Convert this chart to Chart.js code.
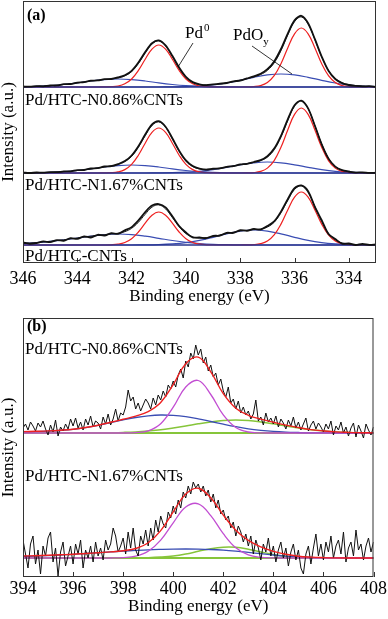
<!DOCTYPE html>
<html>
<head>
<meta charset="utf-8">
<script src="https://cdn.jsdelivr.net/npm/chart.js@4/dist/chart.umd.min.js"></script>
<style>
  html, body { margin: 0; padding: 0; background: #fff; }
  #wrap { position: relative; width: 388px; height: 619px; }
  canvas { position: absolute; left: 0; }
  #chartA { top: 0; }
  #chartB { top: 310px; }
</style>
</head>
<body>
<div id="wrap">
  <canvas id="chartA" width="388" height="310"></canvas>
  <canvas id="chartB" width="388" height="309"></canvas>
</div>
<script>
// ---- tick labels and sample names ----
const pdTicks = [346, 344, 342, 340, 338, 336, 334];
const nTicks = [394, 396, 398, 400, 402, 404, 406, 408];
const sampleNames = ['Pd/HTC-N0.86%CNTs', 'Pd/HTC-N1.67%CNTs', 'Pd/HTC-CNTs'];

// vertical offsets of the stacked spectra (a.u.)
const pdOffsets = [176, 90, 18];
const nOffsets = [144, 19];

// ---- (a) Pd 3d, fine grid 346 -> 333 every 0.25 eV ----
const pd086Raw = [0.5,0.3,0.9,0.7,1.5,1.6,2.8,3.0,4.4,4.8,6.3,6.6,7.9,8.0,9.6,11.8,16.2,24.5,35.0,43.8,46.6,41.6,31.2,19.5,10.2,4.9,2.7,1.8,2.6,3.3,4.0,5.6,6.5,8.6,10.7,13.2,17.8,25.6,38.0,53.4,66.6,71.2,63.8,47.8,30.4,16.2,8.0,3.9,2.0,1.1,0.6,0.8,0.2];
const pd086Fit = [0.2,0.4,0.6,0.9,1.3,1.8,2.5,3.2,4.1,5.0,6.0,6.8,7.5,8.2,9.0,11.1,15.4,23.4,33.8,42.9,46.1,41.1,30.4,18.6,9.6,4.6,2.5,2.0,2.4,3.0,4.1,5.3,6.7,8.3,10.1,12.4,16.6,24.1,36.3,51.9,65.3,70.0,62.9,47.3,30.0,16.6,8.5,4.3,2.4,1.5,0.9,0.6,0.4];
const pd086Metal = [0,0,0,0,0,0,0,0,0,0,0,0,0.1,0.3,1.0,3.2,8.0,16.6,27.8,37.9,42,37.9,27.8,16.6,8.0,3.2,1.0,0.3,0.1,0,0,0,0,0.1,0.4,1.4,4.5,11.3,23.3,39.1,53.2,59,53.2,39.1,23.3,11.3,4.5,1.4,0.4,0.1,0,0,0];
const pd167Raw = [0.4,0.0,0.5,0.3,0.9,0.8,1.6,1.7,2.9,3.0,4.5,4.8,6.5,6.8,8.9,11.9,17.5,26.8,38.4,48.6,51.8,46.2,34.8,22.4,12.6,6.9,4.3,3.4,4.3,4.6,6.2,6.9,8.6,9.2,11.0,12.8,16.8,24.4,37.2,53.6,67.8,72.4,64.6,47.2,28.6,14.4,6.4,2.9,1.5,0.4,0.7,0.1,0.3];
const pd167Fit = [0.1,0.1,0.2,0.4,0.6,0.9,1.3,1.8,2.5,3.2,4.1,5.0,6.1,7.1,8.5,11.3,16.6,25.7,37.2,47.4,51.1,45.8,34.2,21.5,11.8,6.4,4.1,3.6,4.0,4.8,5.9,7.1,8.3,9.4,10.6,12.4,15.9,23.2,35.9,52.3,66.8,71.9,64.3,47.4,29.1,14.9,6.6,2.8,1.2,0.6,0.3,0.2,0.1];
const pd167Metal = [0,0,0,0,0,0,0,0,0,0,0,0,0.1,0.3,1.1,3.4,8.6,17.8,29.8,40.6,45,40.6,29.8,17.8,8.6,3.4,1.1,0.3,0.1,0,0,0,0,0.1,0.4,1.6,4.9,12.4,25.7,43.0,58.6,65,58.6,43.0,25.7,12.4,4.9,1.6,0.4,0.1,0,0,0];
const pdCntRaw = [2.5,1.2,2.0,3.6,2.8,4.9,4.2,6.8,6.1,8.6,7.5,10.2,9.4,11.8,11.2,14.6,17.9,24.6,32.8,39.4,40.9,37.6,28.8,19.0,12.5,7.6,7.5,6.8,9.1,9.4,12.2,12.1,14.9,14.1,16.1,15.4,19.0,23.6,33.4,45.8,56.8,59.6,53.8,38.0,24.8,11.0,5.9,1.4,1.6,0.0,1.2,0.2,0.6];
const pdCntFit = [1.6,2.0,2.5,3.1,3.7,4.4,5.2,6.1,7.0,7.9,8.8,9.6,10.3,11.0,11.8,13.3,16.7,22.7,30.7,37.8,40.1,36.1,27.4,18.2,11.4,8.0,6.9,7.4,8.4,10.0,11.5,12.9,14.0,14.8,15.3,16.0,17.9,22.8,32.1,44.6,55.5,59.1,52.4,38.5,23.3,11.7,5.1,2.0,0.7,0.3,0.1,0.1,0.0];
const pdCntMetal = [0,0,0,0,0,0,0,0,0,0,0,0,0,0.2,0.8,2.5,6.3,13.0,21.8,29.8,33,29.8,21.8,13.0,6.3,2.5,0.8,0.2,0,0,0,0,0,0.1,0.3,1.3,4.0,10.1,20.9,35.1,47.8,53,47.8,35.1,20.9,10.1,4.0,1.3,0.3,0.1,0,0,0];

// ---- (a) PdOy components, coarse grid 346 -> 333 every 0.5 eV ----
const pd086OxA = [0.2,0.6,1.3,2.5,4.1,6.0,7.4,8,7.4,6.0,4.1,2.5,1.3,0.6,0.2,0.1,0,0,0,0,0,0,0,0,0,0,0];
const pd086OxB = [0,0,0,0,0,0,0,0,0,0,0,0.1,0.4,0.9,2.0,4.0,6.7,9.7,12.1,13,12.1,9.7,6.7,4.0,2.0,0.9,0.4];
const pd167OxA = [0.1,0.2,0.6,1.3,2.5,4.1,6.0,7.4,8,7.4,6.0,4.1,2.5,1.3,0.6,0.2,0.1,0,0,0,0,0,0,0,0,0,0];
const pd167OxB = [0,0,0,0,0,0,0,0,0,0,0.1,0.3,0.8,1.7,3.4,5.7,8.2,10.2,11,10.2,8.2,5.7,3.4,1.7,0.8,0.3,0.1];
const pdCntOxA = [1.6,2.5,3.7,5.2,7.0,8.8,10.3,11,10.4,8.8,6.7,4.5,2.7,1.5,0.7,0.3,0.1,0,0,0,0,0,0,0,0,0,0];
const pdCntOxB = [0,0,0,0,0,0,0,0,0,0.1,0.4,1.1,2.4,4.6,7.7,11.2,13.9,15,13.9,11.2,7.7,4.6,2.4,1.1,0.4,0.1,0];

// ---- (b) N 1s fit components, 394 -> 408 every 0.5 eV ----
const n086Fit = [1.4,1.7,2.1,2.8,3.8,5.5,7.8,10.7,13.7,16.9,21.4,30.5,48.4,69.3,75.8,61.1,39.4,24.8,17.7,13.9,10.8,7.9,5.5,3.4,2.1,1.1,0.6,0.3,0.1];
const n086Pink = [0,0,0,0,0,0,0,0,0,0.3,2.2,9.3,25.8,46.0,52.5,38.5,18.1,5.5,1.0,0.1,0,0,0,0,0,0,0,0,0];
const n086Blue = [1.2,1.4,1.8,2.5,3.6,5.4,7.7,10.4,13.1,15.5,17.2,18.0,17.6,16.3,14.1,11.5,8.8,6.3,4.2,2.7,1.6,0.9,0.5,0.2,0.1,0,0,0,0];
const n086Green = [0,0,0,0,0,0.05,0.1,0.3,0.6,1.1,2.0,3.2,5.0,7.0,9.2,11.1,12.5,13,12.5,11.1,9.2,7.0,5.0,3.2,2.0,1.1,0.6,0.3,0.1];
const n167Fit = [2.0,2.3,2.7,3.2,3.7,4.5,5.3,6.1,7.3,9.5,15.2,27.4,46.1,64.0,69.8,60.2,42.9,27.7,17.6,11.1,6.7,3.7,1.8,0.9,0.4,0.1,0,0,0];
const n167Pink = [0,0,0,0,0,0,0,0,0.4,1.8,6.7,17.9,35.2,51.0,54.2,42.4,24.3,10.2,3.2,0.7,0.1,0,0,0,0,0,0,0,0];
const n167Blue = [1.5,1.9,2.4,3.0,3.7,4.5,5.3,6.1,6.9,7.6,8.2,8.6,8.9,9.0,8.9,8.5,7.8,6.8,5.6,4.3,3.0,1.9,1.1,0.6,0.3,0.1,0,0,0];
const n167Green = [0,0,0,0,0,0,0,0,0,0.1,0.3,0.9,2.0,4.0,6.7,9.3,10.8,10.7,8.8,6.1,3.6,1.8,0.7,0.3,0.1,0,0,0,0];

// ---- (b) N 1s raw counts, 394 -> 408 every 0.1 eV ----
const n086Raw = [5,9,3,11,7,2,10,6,12,4,
  -2,8,1,13,-3,6,2,9,4,14,
  7,15,5,11,3,14,8,17,6,12,
  10,4,16,9,19,8,14,24,12,20,
  18,26,43,32,36,24,30,22,28,34,
  30,24,35,28,38,33,42,36,48,44,
  52,46,58,64,55,72,66,80,74,88,
  78,84,70,76,62,68,56,60,48,54,
  42,36,46,30,34,24,32,20,26,18,
  22,14,19,33,12,16,8,20,11,15,
  9,17,6,14,10,4,13,7,16,5,
  11,3,9,15,2,8,12,4,10,6,
  1,9,4,12,-2,7,3,11,0,6,
  -3,5,10,-4,8,2,-5,9,3,-2,6];
const n167Raw = [18,4,-10,14,22,-6,8,-16,12,2,
  20,26,-4,10,-18,6,16,-8,2,12,
  -6,14,4,18,-10,8,0,12,-4,16,
  2,10,-2,18,8,14,30,22,6,12,
  20,4,26,10,30,8,2,22,14,28,
  12,30,18,38,26,42,34,30,46,40,
  52,44,58,50,66,60,72,64,76,70,
  74,66,72,62,68,56,64,50,58,44,
  48,38,42,30,36,22,32,26,16,24,
  12,22,4,18,10,-2,14,6,20,2,
  12,-4,8,16,0,10,-8,6,14,-2,
  8,-10,-16,4,12,-6,10,24,2,14,
  -2,16,6,22,0,12,18,4,26,-4,
  10,16,2,28,8,14,-2,12,20,6,16];

// energy grids
function range(from, to, step) {
  const n = Math.round(Math.abs(to - from) / step);
  const dir = to < from ? -1 : 1;
  return Array.from({ length: n + 1 }, (_, i) => +(from + dir * i * step).toFixed(2));
}
const pdFineBE = range(346, 333, 0.25);
const pdCoarseBE = range(346, 333, 0.5);
const nFitBE = range(394, 408, 0.5);
const nRawBE = range(394, 408, 0.1);

const SERIF = '"Liberation Serif", "Times New Roman", serif';
const font = (size, weight) => `${weight || ''} ${size}px ${SERIF}`.trim();

const BLACK = '#111111';
const RED = '#ee2020';
const BLUE = '#3a4db3';
const NAVY = '#29358f';
const PINK = '#c24ed2';
const GREEN = '#86c53a';

function line(xs, ys, offset, color, width, tension) {
    return {
        data: ys.map((y, i) => ({ x: xs[i], y: y + offset })),
        borderColor: color,
        borderWidth: width,
        pointRadius: 0,
        fill: false,
        tension: tension
    };
}

function flat(x0, x1, offset, color, width) {
    return line([x0, x1], [0, 0], offset, color, width, 0);
}

// frame round the plot area with short inward ticks on the energy axis
const framePlugin = {
    id: 'frame',
    afterDraw(chart) {
        const { ctx, chartArea: a } = chart;
        const x = chart.scales.x;
        ctx.save();
        ctx.strokeStyle = '#333';
        ctx.lineWidth = 1;
        ctx.strokeRect(a.left + 0.5, a.top + 0.5, a.right - a.left - 1, a.bottom - a.top - 1);
        ctx.beginPath();
        for (const t of x.ticks) {
            const px = Math.round(x.getPixelForValue(t.value)) + 0.5;
            ctx.moveTo(px, a.bottom);
            ctx.lineTo(px, a.bottom - 5);
        }
        ctx.stroke();
        ctx.restore();
    }
};

function axes(min, max, reverse, ticks, axisHeight, tickPad, titlePad, yMax) {
    return {
        x: {
            type: 'linear',
            min: min,
            max: max,
            reverse: reverse,
            afterBuildTicks: s => { s.ticks = ticks.map(v => ({ value: v })); },
            afterFit: s => { s.height = axisHeight; },
            ticks: { font: { family: SERIF, size: 18 }, color: '#000', padding: tickPad, maxRotation: 0, autoSkip: false },
            grid: { display: false, drawTicks: false },
            border: { display: false },
            title: { display: true, text: 'Binding energy (eV)', color: '#000',
                     font: { family: SERIF, size: 17 }, padding: { top: 0, bottom: titlePad } }
        },
        y: {
            min: 0,
            max: yMax,
            afterFit: s => { s.width = 23; },
            ticks: { display: false },
            grid: { display: false, drawTicks: false },
            border: { display: false },
            title: { display: true, text: 'Intensity (a.u.)', color: '#000',
                     font: { family: SERIF, size: 17, lineHeight: 1 }, padding: { top: 0, bottom: 0 } }
        }
    };
}

// ---------- panel (a) ----------
const pdSets = [
    [pd086Raw, pd086Fit, pd086Metal, pd086OxA, pd086OxB],
    [pd167Raw, pd167Fit, pd167Metal, pd167OxA, pd167OxB],
    [pdCntRaw, pdCntFit, pdCntMetal, pdCntOxA, pdCntOxB]
];
const datasetsA = [];
pdSets.forEach(([raw, fit, metal, oxA, oxB], i) => {
    const off = pdOffsets[i];
    datasetsA.push(
        line(pdFineBE, raw, off, BLACK, 1.8, 0.3),
        line(pdFineBE, fit, off, '#222', 1, 0.4),
        flat(346, 333, off, NAVY, 1.3),
        line(pdFineBE, metal, off, RED, 1.2, 0.4),
        line(pdCoarseBE, oxA, off, BLUE, 1.2, 0.4),
        line(pdCoarseBE, oxB, off, BLUE, 1.2, 0.4)
    );
});

const labelsA = {
    id: 'labelsA',
    afterDraw(chart) {
        const ctx = chart.ctx;
        ctx.save();
        ctx.fillStyle = '#000';
        ctx.textBaseline = 'alphabetic';
        ctx.font = font(16, 'bold');
        ctx.fillText('(a)', 27, 20);
        ctx.font = font(17);
        ctx.fillText(sampleNames[0], 25, 105);
        ctx.fillText(sampleNames[1], 25, 190);
        ctx.fillText(sampleNames[2], 25, 261);
        // Pd0 and PdOy with leader lines
        ctx.fillText('Pd', 185, 38);
        const w1 = ctx.measureText('Pd').width;
        ctx.fillText('PdO', 233, 40);
        const w2 = ctx.measureText('PdO').width;
        ctx.font = font(11);
        ctx.fillText('0', 185 + w1 + 1, 31);
        ctx.fillText('y', 233 + w2, 45);
        ctx.strokeStyle = '#000';
        ctx.lineWidth = 0.8;
        ctx.beginPath();
        ctx.moveTo(193, 43);
        ctx.lineTo(178, 67);
        ctx.moveTo(252, 46);
        ctx.lineTo(292, 74);
        ctx.stroke();
        ctx.restore();
    }
};

new Chart(document.getElementById('chartA'), {
    type: 'line',
    data: { datasets: datasetsA },
    options: {
        responsive: false,
        animation: false,
        devicePixelRatio: 1,
        layout: { padding: { left: 0, right: 12, top: 1, bottom: 0 } },
        plugins: { legend: { display: false }, tooltip: { enabled: false } },
        scales: axes(333, 346, true, pdTicks, 47, 5, 3, 262)
    },
    plugins: [framePlugin, labelsA]
});

// ---------- panel (b) ----------
const nSets = [
    [n086Raw, n086Fit, n086Pink, n086Blue, n086Green],
    [n167Raw, n167Fit, n167Pink, n167Blue, n167Green]
];
const datasetsB = [];
nSets.forEach(([raw, fit, pink, blue, green], i) => {
    const off = nOffsets[i];
    datasetsB.push(
        line(nFitBE, fit, off, RED, 1.4, 0.4),
        line(nRawBE, raw, off, BLACK, 1, 0),
        line(nFitBE, pink, off, PINK, 1.3, 0.4),
        line(nFitBE, blue, off, BLUE, 1.3, 0.4),
        line(nFitBE, green, off, GREEN, 1.5, 0.4),
        flat(394, 408, off, GREEN, 2)
    );
});

const labelsB = {
    id: 'labelsB',
    afterDraw(chart) {
        const ctx = chart.ctx;
        ctx.save();
        ctx.fillStyle = '#000';
        ctx.font = font(16, 'bold');
        ctx.fillText('(b)', 27, 21);
        ctx.font = font(17);
        ctx.fillText(sampleNames[0], 25, 44);
        ctx.fillText(sampleNames[1], 25, 171);
        ctx.restore();
    }
};

new Chart(document.getElementById('chartB'), {
    type: 'line',
    data: { datasets: datasetsB },
    options: {
        responsive: false,
        animation: false,
        devicePixelRatio: 1,
        layout: { padding: { left: 0, right: 13, top: 8, bottom: 0 } },
        plugins: { legend: { display: false }, tooltip: { enabled: false } },
        scales: axes(394, 408, false, nTicks, 42, 1, 2, 259)
    },
    plugins: [framePlugin, labelsB]
});
</script>
</body>
</html>
